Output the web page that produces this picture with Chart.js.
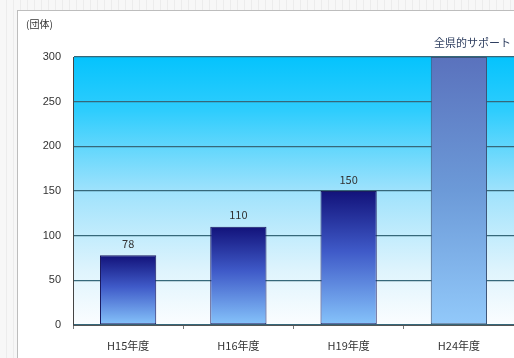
<!DOCTYPE html>
<html>
<head>
<meta charset="utf-8">
<script src="https://cdn.jsdelivr.net/npm/chart.js@4.4.1/dist/chart.umd.min.js"></script>
<style>
  html, body { margin: 0; padding: 0; }
  body {
    width: 514px; height: 358px; overflow: hidden; position: relative;
    background: repeating-linear-gradient(90deg, #f7f7f7 0 6px, #ececec 6px 7px);
  }
  #frame {
    position: absolute; left: 17px; top: 10px; right: 0; bottom: 0;
    background: #fff; border-left: 1px solid #bdbdbd; border-top: 1px solid #bdbdbd;
  }
  #wrap { position: absolute; left: 0; top: 0; width: 514px; height: 358px; }
</style>
</head>
<body>
<div id="frame"></div>
<div id="wrap"><canvas id="groupChart" width="514" height="358"></canvas></div>
<script>
var years = ['H15年度', 'H16年度', 'H19年度', 'H24年度'];
var groups = [78, 110, 150, 300];
var yTicks = [0, 50, 100, 150, 200, 250, 300];
var unitLabel = '(団体)';
var noteLabel = '全県的サポート';

var jpFont = '"Noto Sans CJK JP", "Noto Sans", sans-serif';

// sky gradient behind the bars
var plotBackground = {
    id: 'plotBackground',
    beforeDraw: function(chart) {
        var a = chart.chartArea;
        var ctx = chart.ctx;
        var g = ctx.createLinearGradient(0, a.top, 0, a.bottom);
        g.addColorStop(0, '#05c3fd');
        g.addColorStop(0.2, '#2ecdfd');
        g.addColorStop(0.5, '#9fe2fc');
        g.addColorStop(0.8, '#dff4fd');
        g.addColorStop(1, '#fbfdff');
        ctx.save();
        ctx.fillStyle = g;
        ctx.fillRect(a.left, a.top, a.right - a.left, a.bottom - a.top);
        ctx.restore();
    }
};

// values over the bars, unit and note texts
var extraText = {
    id: 'extraText',
    afterDatasetsDraw: function(chart) {
        var ctx = chart.ctx;
        var meta = chart.getDatasetMeta(0);
        ctx.save();
        ctx.font = '11px ' + jpFont;
        ctx.fillStyle = '#333';
        ctx.textAlign = 'center';
        ctx.textBaseline = 'bottom';
        meta.data.forEach(function(bar, i) {
            if (i < groups.length - 1) {
                ctx.fillText(String(groups[i]), bar.x, bar.y - 6);
            }
        });
        ctx.font = '10px ' + jpFont;
        ctx.textAlign = 'left';
        ctx.textBaseline = 'middle';
        ctx.fillText(unitLabel, 26, 24);
        ctx.font = '11px ' + jpFont;
        ctx.fillStyle = '#2f3f60';
        ctx.textAlign = 'right';
        ctx.fillText(noteLabel, 511, 43);
        ctx.restore();
    }
};

function barFill(context) {
    var chart = context.chart;
    var a = chart.chartArea;
    if (!a) return '#1a2a90';
    var g = chart.ctx.createLinearGradient(0, a.top, 0, a.bottom);
    if (context.dataIndex === groups.length - 1) {
        g.addColorStop(0, '#5a72bd');
        g.addColorStop(0.5, '#6c9ad8');
        g.addColorStop(1, '#92c9fa');
        return g;
    }
    var y0 = chart.scales.y.getPixelForValue(groups[context.dataIndex]);
    g = chart.ctx.createLinearGradient(0, y0, 0, a.bottom);
    g.addColorStop(0, '#12127a');
    g.addColorStop(0.45, '#3f5ac8');
    g.addColorStop(1, '#86c4fb');
    return g;
}

var ctx = document.getElementById('groupChart').getContext('2d');
var groupChart = new Chart(ctx, {
    type: 'bar',
    data: {
        labels: years,
        datasets: [{
            data: groups,
            backgroundColor: barFill,
            borderColor: function(c) {
                return c.dataIndex === groups.length - 1 ? '#3c5478' : '#1a1a60';
            },
            borderWidth: 1,
            borderSkipped: false,
            barPercentage: 0.51,
            categoryPercentage: 1
        }]
    },
    options: {
        responsive: false,
        animation: false,
        layout: { padding: { left: 17, top: 57, right: 0, bottom: 0 } },
        plugins: {
            legend: { display: false },
            tooltip: { enabled: false }
        },
        scales: {
            x: {
                offset: true,
                grid: {
                    display: true,
                    drawOnChartArea: false,
                    tickLength: 4,
                    color: '#777',
                    offset: true
                },
                border: { color: '#555', width: 1 },
                ticks: {
                    color: '#333',
                    font: { family: jpFont, size: 11 },
                    padding: 10
                },
                afterFit: function(scale) { scale.height = 33; }
            },
            y: {
                min: 0,
                max: 300,
                afterBuildTicks: function(scale) {
                    scale.ticks = yTicks.map(function(v) { return { value: v }; });
                },
                grid: {
                    color: '#36687a',
                    lineWidth: 1.3,
                    drawTicks: false
                },
                border: { color: '#444', width: 1 },
                ticks: {
                    color: '#333',
                    font: { family: 'Liberation Sans, sans-serif', size: 11 },
                    padding: 12
                },
                afterFit: function(scale) { scale.width = 56; }
            }
        }
    },
    plugins: [plotBackground, extraText]
});
</script>
</body>
</html>
